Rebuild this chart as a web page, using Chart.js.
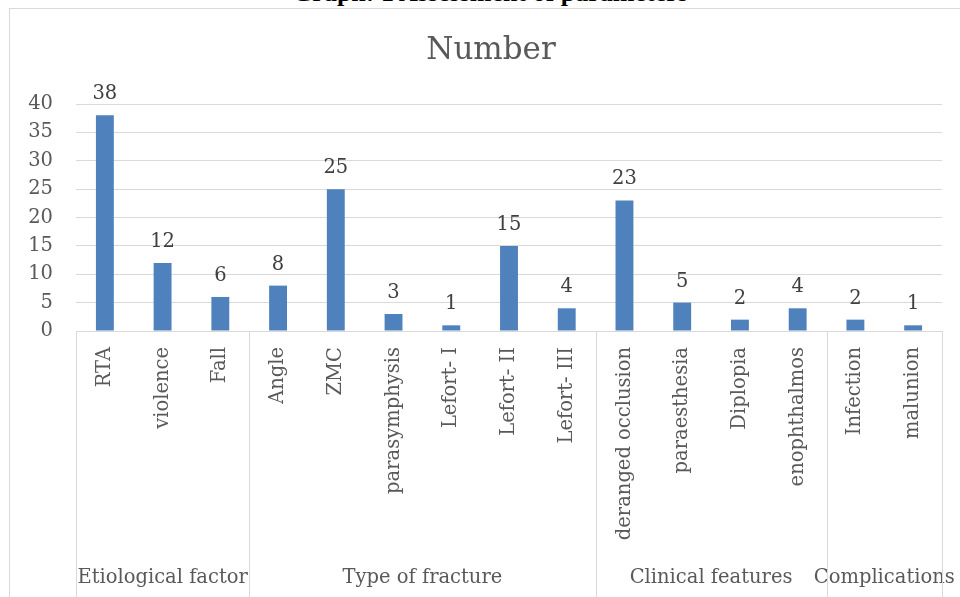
<!DOCTYPE html>
<html>
<head>
<meta charset="utf-8">
<script src="https://cdn.jsdelivr.net/npm/chart.js@4"></script>
<style>
  body { margin: 0; background: #fff; overflow: hidden; }
  #frame { position: absolute; left: 9px; top: 8px; width: 1000px; height: 700px; border: 1px solid #d9d9d9; }
  #pageTitle { position: absolute; left: 0; width: 980px; top: -22px; text-align: center;
    font: bold 26px "Liberation Serif", serif; color: #000; white-space: nowrap; }
  #chart { position: absolute; left: 0; top: 0; }
</style>
</head>
<body>
<div id="pageTitle">Graph: 1 Assessment of parameters</div>
<div id="frame"></div>
<canvas id="chart" width="960" height="597"></canvas>
<script>
// data
const categories = ["RTA", "violence", "Fall", "Angle", "ZMC", "parasymphysis", "Lefort- I",
  "Lefort- II", "Lefort- III", "deranged occlusion", "paraesthesia", "Diplopia",
  "enophthalmos", "Infection", "malunion"]
const values = [38, 12, 6, 8, 25, 3, 1, 15, 4, 23, 5, 2, 4, 2, 1]
const groupNames = ["Etiological factor", "Type of fracture", "Clinical features", "Complications"]
const groupSizes = [3, 6, 4, 2]
const yTicks = [0, 5, 10, 15, 20, 25, 30, 35, 40]
const chartTitle = "Number"

const FONT = "DejaVu Serif"
const TEXT = "#595959"
const GRID = "#d9d9d9"

// chart title, group separators, group names and value labels
const groupsPlugin = {
  id: "groups",
  afterDraw(chart) {
    const ctx = chart.ctx
    const x = chart.scales.x
    const area = chart.chartArea
    const half = (x.getPixelForValue(1) - x.getPixelForValue(0)) / 2

    ctx.save()
    ctx.fillStyle = TEXT
    ctx.textAlign = "center"
    ctx.textBaseline = "middle"

    // title is centred on the outer frame, not the plot
    ctx.font = `31px "${FONT}"`
    ctx.fillText(chartTitle, 491, 51)

    ctx.strokeStyle = GRID
    ctx.lineWidth = 1
    ctx.font = `19.5px "${FONT}"`

    let start = 0
    const edges = [Math.round(x.getPixelForValue(0) - half) + 0.5]
    groupSizes.forEach((size, g) => {
      const left = x.getPixelForValue(start) - half
      const right = x.getPixelForValue(start + size - 1) + half
      edges.push(Math.round(right) + 0.5)
      ctx.fillText(groupNames[g], (left + right) / 2, 578)
      start += size
    })
    edges.forEach(px => {
      ctx.beginPath()
      ctx.moveTo(px, area.bottom)
      ctx.lineTo(px, chart.height)
      ctx.stroke()
    })

    // value labels
    ctx.fillStyle = "#404040"
    ctx.textBaseline = "alphabetic"
    chart.getDatasetMeta(0).data.forEach((bar, i) => {
      ctx.fillText(values[i], bar.x, bar.y - 16)
    })
    ctx.restore()
  }
}

new Chart(document.getElementById("chart"), {
  type: "bar",
  data: {
    labels: categories,
    datasets: [{
      label: chartTitle,
      data: values,
      backgroundColor: "#4f81bd",
      barPercentage: 0.31,
      categoryPercentage: 1
    }]
  },
  options: {
    responsive: false,
    animation: false,
    layout: { padding: { left: 0, right: 18, top: 104, bottom: 0 } },
    plugins: {
      legend: { display: false },
      tooltip: { enabled: false },
      title: { display: false }
    },
    scales: {
      x: {
        grid: { display: false, drawTicks: false },
        border: { display: false },
        ticks: {
          autoSkip: false,
          minRotation: 90,
          maxRotation: 90,
          padding: 16,
          color: TEXT,
          font: { family: FONT, size: 19.5 }
        },
        afterFit(scale) { scale.height = 266 }
      },
      y: {
        min: yTicks[0],
        max: yTicks[yTicks.length - 1],
        grid: { color: GRID, drawTicks: false },
        border: { display: false },
        ticks: {
          stepSize: yTicks[1] - yTicks[0],
          padding: 23,
          color: TEXT,
          font: { family: FONT, size: 19.5 }
        },
        afterFit(scale) { scale.width = 76 }
      }
    }
  },
  plugins: [groupsPlugin]
})
</script>
</body>
</html>
